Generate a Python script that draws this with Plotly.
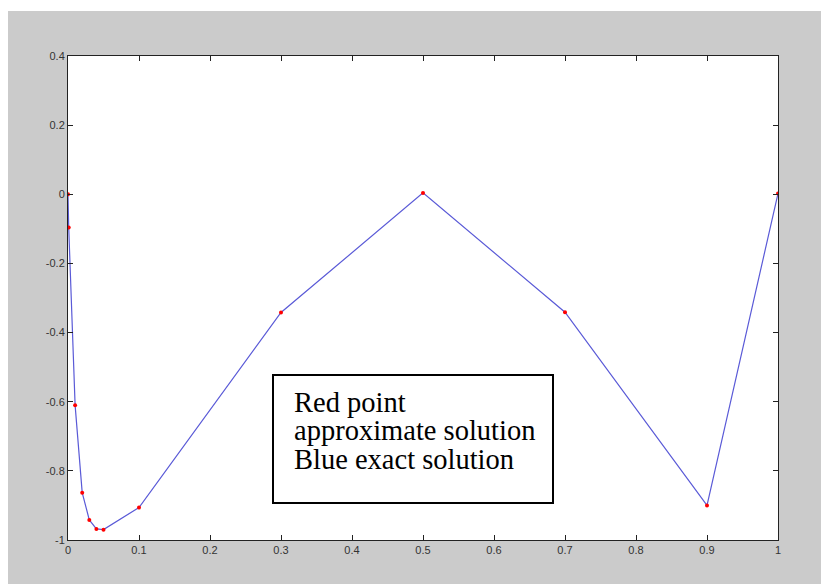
import plotly.graph_objects as go

# Data
x_nodes = [0, 0.001, 0.01, 0.02, 0.03, 0.04, 0.05, 0.1, 0.3, 0.5, 0.7, 0.9, 1.0]
approx_vals = [0, -0.096, -0.61, -0.863, -0.942, -0.968, -0.970, -0.906, -0.342, 0.004, -0.341, -0.900, 0.002]
exact_vals = [0, -0.096, -0.61, -0.863, -0.942, -0.968, -0.970, -0.906, -0.342, 0.004, -0.341, -0.900, 0.002]

x_ticks = [0, 0.1, 0.2, 0.3, 0.4, 0.5, 0.6, 0.7, 0.8, 0.9, 1]
x_ticklabels = ["0", "0.1", "0.2", "0.3", "0.4", "0.5", "0.6", "0.7", "0.8", "0.9", "1"]
y_ticks = [-1, -0.8, -0.6, -0.4, -0.2, 0, 0.2, 0.4]
y_ticklabels = ["-1", "-0.8", "-0.6", "-0.4", "-0.2", "0", "0.2", "0.4"]

legend_lines = ["Red point", "approximate solution", "Blue exact solution"]

# page body has an 8px margin; work in figure pixels = reference pixels - 8
OFF = 8
W, H = 829 - OFF, 584 - OFF
L, R, T, B = 68 - OFF, 778 - OFF, 56 - OFF, 540 - OFF  # plot area pixels
pw, ph = R - L, B - T

def px(xp):
    return (xp - OFF - L) / pw

def py(yp):
    return (B - (yp - OFF)) / ph

fig = go.Figure()
fig.add_trace(go.Scatter(x=x_nodes, y=exact_vals, mode="lines",
                         line=dict(color="rgb(90,90,215)", width=1.2),
                         showlegend=False, hoverinfo="skip"))
fig.add_trace(go.Scatter(x=x_nodes, y=approx_vals, mode="markers",
                         marker=dict(color="red", size=4),
                         showlegend=False))

axis_common = dict(showgrid=False, zeroline=False, showline=True, linecolor="#222",
                   linewidth=1, mirror="ticks", ticks="inside", ticklen=5,
                   tickcolor="#222", tickfont=dict(family="Liberation Sans, Arial", size=11, color="#333"))

fig.update_xaxes(range=[0, 1], tickvals=x_ticks, ticktext=x_ticklabels, **axis_common)
fig.update_yaxes(range=[-1, 0.4], tickvals=y_ticks, ticktext=y_ticklabels, **axis_common)

shapes = [
    # thin white strip at top (outside grey figure area)
    dict(type="rect", xref="paper", yref="paper", x0=px(0), x1=px(840), y0=py(11), y1=py(0),
         fillcolor="white", line=dict(width=0), layer="below"),
    # text box
    dict(type="rect", xref="paper", yref="paper", x0=px(273), x1=px(553), y0=py(503), y1=py(375),
         fillcolor="white", line=dict(color="black", width=2)),
]

baselines = [411.7, 440.3, 469]
annotations = []
fs = 28.5
for txt, bl in zip(legend_lines, baselines):
    c = bl - (0.891 - 0.216) / 2 * fs
    annotations.append(dict(xref="paper", yref="paper", x=px(292), y=py(c), xanchor="left",
                            yanchor="middle", text=txt, showarrow=False,
                            font=dict(family="Liberation Serif, Times New Roman", size=fs, color="black")))

fig.update_layout(width=W, height=H, margin=dict(l=L, r=W - R, t=T, b=H - B),
                  paper_bgcolor="#cbcbcb", plot_bgcolor="white",
                  shapes=shapes, annotations=annotations)

fig.write_html("out.html")
